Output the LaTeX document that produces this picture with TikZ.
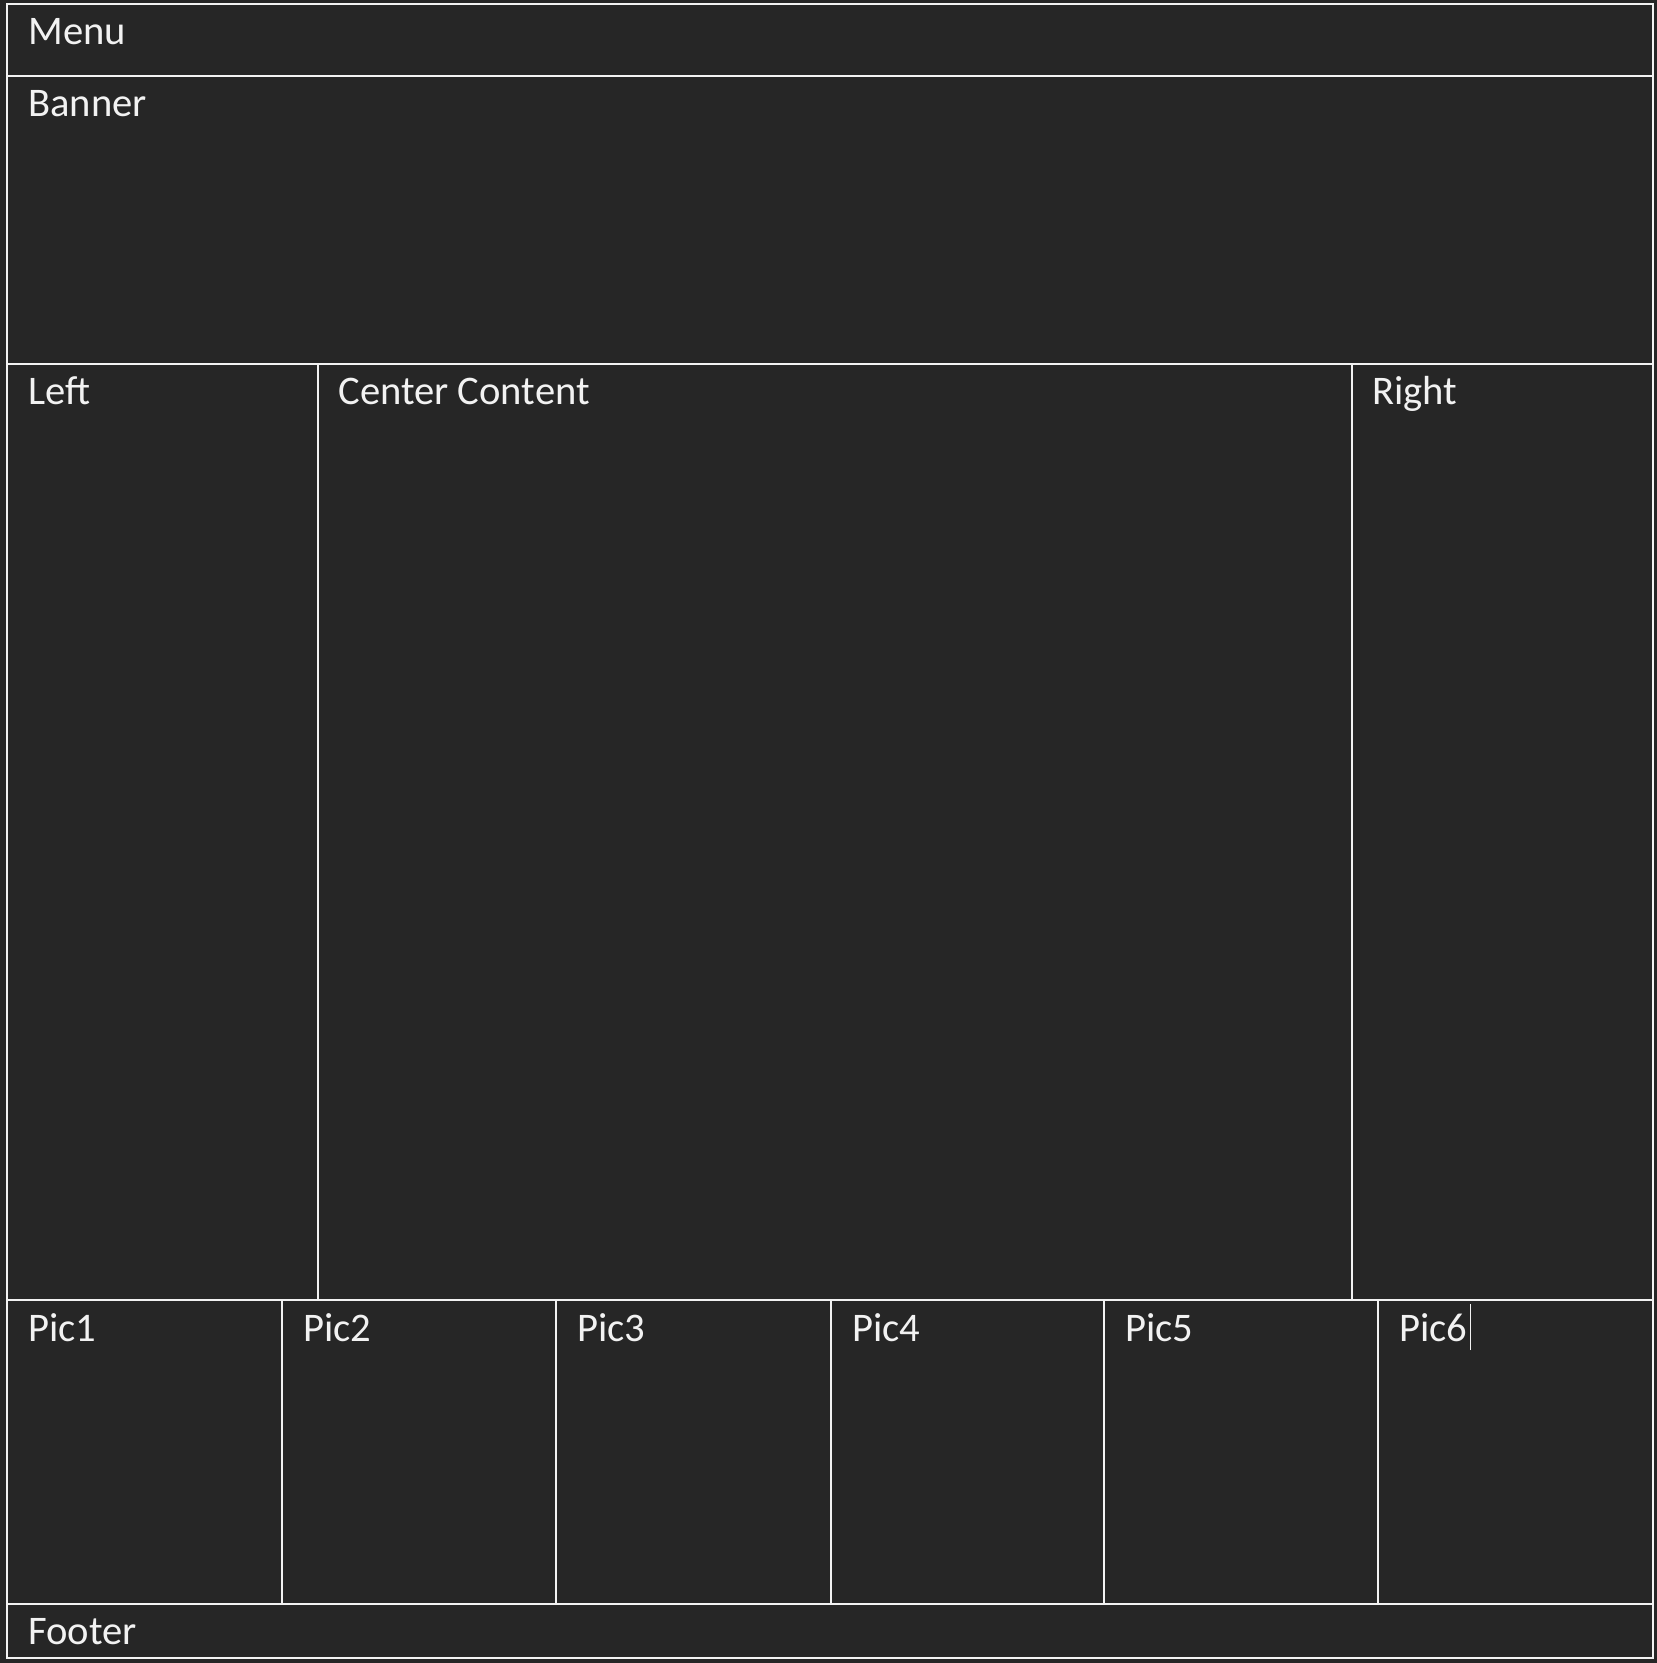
\documentclass[tikz,border=0pt]{standalone}
\usepackage{fontspec}
\setmainfont{Carlito}
\definecolor{bgcol}{HTML}{262626}
\definecolor{linecol}{HTML}{F2F2F2}
\begin{document}
\begin{tikzpicture}[x=0.5pt,y=-0.5pt,
    box/.style={draw=linecol,shape=rectangle,anchor=north west,inner sep=0pt,line width=1pt},
    lbl/.style={anchor=base west,inner sep=0pt,text=linecol,font=\fontsize{20.3}{24}\selectfont}]
    \fill[bgcol] (0,0) rectangle (1657,1663);
    \useasboundingbox (0,0) rectangle (1657,1663);

    % regions
    \node[box,minimum width=823pt,minimum height=36pt] (menu) at (6,3) {};
    \node[box,minimum width=823pt,minimum height=144pt] (banner) at (6,75) {};
    \node[box,minimum width=155.5pt,minimum height=468pt] (left) at (6,363) {};
    \node[box,minimum width=517pt,minimum height=468pt] (center) at (317,363) {};
    \node[box,minimum width=150.5pt,minimum height=468pt] (right) at (1351,363) {};
    \node[box,minimum width=137.5pt,minimum height=152pt] (pic1) at (6,1299) {};
    \node[box,minimum width=137pt,minimum height=152pt] (pic2) at (281,1299) {};
    \node[box,minimum width=137.5pt,minimum height=152pt] (pic3) at (555,1299) {};
    \node[box,minimum width=136.5pt,minimum height=152pt] (pic4) at (830,1299) {};
    \node[box,minimum width=137pt,minimum height=152pt] (pic5) at (1103,1299) {};
    \node[box,minimum width=137.5pt,minimum height=152pt] (pic6) at (1377,1299) {};
    \node[box,minimum width=823pt,minimum height=27pt] (footer) at (6,1603) {};

    % labels
    \node[lbl] (menulbl) at ([shift={(11pt,-21pt)}]menu.north west) {Menu};
    \node[lbl] (bannerlbl) at ([shift={(11pt,-21pt)}]banner.north west) {Banner};
    \node[lbl] (leftlbl) at ([shift={(11pt,-21pt)}]left.north west) {Left};
    \node[lbl] (centerlbl) at ([shift={(10.5pt,-21pt)}]center.north west) {Center Content};
    \node[lbl] (rightlbl) at ([shift={(10.5pt,-21pt)}]right.north west) {Right};
    \node[lbl] (pic1lbl) at ([shift={(11pt,-21pt)}]pic1.north west) {Pic1};
    \node[lbl] (pic2lbl) at ([shift={(11pt,-21pt)}]pic2.north west) {Pic2};
    \node[lbl] (pic3lbl) at ([shift={(11pt,-21pt)}]pic3.north west) {Pic3};
    \node[lbl] (pic4lbl) at ([shift={(11pt,-21pt)}]pic4.north west) {Pic4};
    \node[lbl] (pic5lbl) at ([shift={(11pt,-21pt)}]pic5.north west) {Pic5};
    \node[lbl] (pic6lbl) at ([shift={(11pt,-21pt)}]pic6.north west) {Pic6};
    \node[lbl] (footerlbl) at ([shift={(11pt,-20.5pt)}]footer.north west) {Footer};

    % text cursor
    \draw[linecol,line width=0.7pt] ([shift={(1.2pt,-4.5pt)}]pic6lbl.base east) -- ++(0pt,23pt);
\end{tikzpicture}
\end{document}
